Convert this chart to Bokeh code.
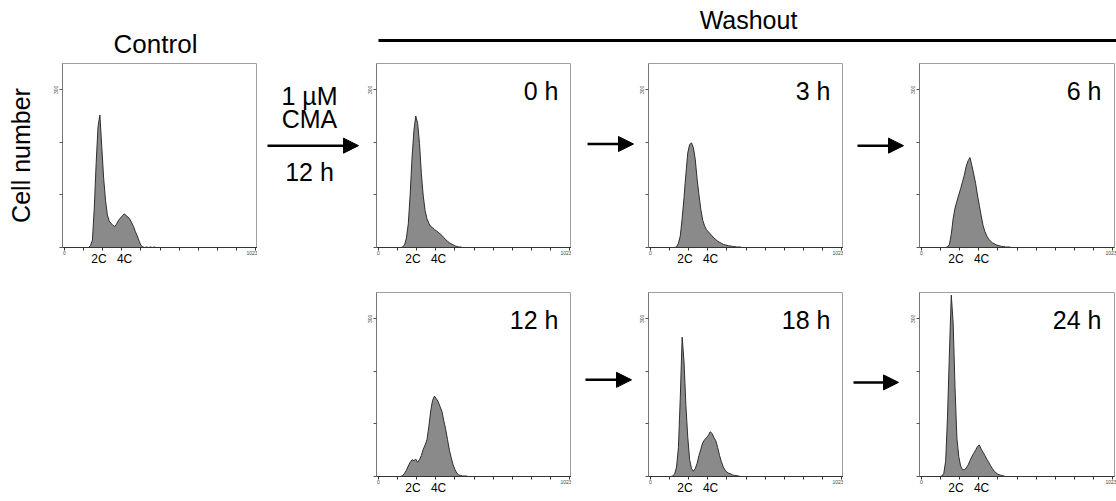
from bokeh.plotting import figure
from bokeh.models import Range1d, LinearAxis, FixedTicker, Arrow, NormalHead, Spacer, Label
from bokeh.layouts import row, column
from bokeh.embed import file_html
from bokeh.resources import INLINE
from bokeh.core.properties import value

FONT = "Liberation Sans"

# ---------------- data (DNA content histograms, channel vs cell count) -------------
channel = [100, 110, 120, 130, 140, 150, 160, 170, 180, 190,
           200, 210, 220, 230, 240, 250, 260, 270, 280, 290,
           300, 310, 320, 330, 340, 350, 360, 370, 380, 390,
           400, 410, 420, 430, 440, 450, 460, 470, 480, 490, 500]

control = [0, 0, 0, 0, 4, 14, 75, 160, 230, 252,
           192, 132, 90, 62, 50, 46, 42, 40, 45, 52,
           56, 60, 64, 61, 58, 54, 47, 40, 30, 22,
           12, 4, 1, 0, 1, 0, 1, 0, 1, 0, 0]

wash_0h = [0, 0, 0, 1, 5, 18, 45, 100, 170, 222,
           250, 236, 198, 140, 98, 70, 55, 46, 40, 38,
           34, 32, 29, 26, 23, 19, 15, 12, 9, 7,
           5, 3, 2, 1, 1, 0, 0, 0, 0, 0, 0]

wash_3h = [0, 0, 0, 0, 1, 8, 22, 55, 95, 140,
           180, 196, 199, 190, 168, 130, 100, 72, 52, 41,
           34, 30, 26, 22, 18, 15, 12, 10, 8, 6,
           5, 4, 3, 3, 2, 2, 1, 1, 1, 0, 0]

wash_6h = [0, 0, 0, 0, 1, 6, 25, 55, 75, 88,
           100, 112, 125, 138, 155, 165, 171, 156, 140, 122,
           100, 80, 60, 42, 30, 22, 16, 12, 9, 7,
           5, 4, 3, 2, 2, 1, 1, 1, 0, 0, 0]

wash_12h = [0, 0, 0, 2, 6, 12, 20, 27, 32, 30,
            33, 27, 32, 40, 52, 60, 70, 95, 125, 145,
            153, 148, 142, 133, 124, 106, 90, 70, 50, 35,
            22, 13, 6, 3, 2, 1, 1, 1, 0, 0, 0]

wash_18h = [0, 0, 1, 5, 18, 55, 150, 265, 218, 135,
            75, 32, 15, 10, 15, 25, 40, 52, 64, 70,
            74, 78, 85, 82, 74, 68, 55, 40, 28, 18,
            12, 8, 6, 5, 3, 2, 2, 1, 0, 0, 0]

wash_24h = [0, 1, 6, 30, 115, 235, 345, 292, 169, 73,
            38, 20, 13, 13, 16, 22, 30, 38, 44, 50,
            57, 60, 52, 46, 40, 33, 27, 21, 15, 10,
            7, 4, 3, 2, 1, 0, 0, 0, 0, 0, 0]

time_labels = ["0 h", "3 h", "6 h", "12 h", "18 h", "24 h"]

x_ticks = [0, 102, 205, 307, 409, 512, 614, 716, 818, 921, 1023]
x_tick_text = {0: "0", 1023: "1023"}
y_ticks = [0, 100, 200, 300]
y_tick_text = {300: "300"}
ploidy_channels = [185, 322]
ploidy_labels = ["2C", "4C"]

# ---------------- layout constants ----------------
FRAME_W = 195
FRAME_H = 184
HEADER_H = 60
ROW1_TOP, ROW1_BOTTOM = 3, 37
ROW2_TOP, ROW2_BOTTOM = 8, 25
ROW1_H = ROW1_TOP + FRAME_H + ROW1_BOTTOM
ROW2_H = ROW2_TOP + FRAME_H + ROW2_BOTTOM

FILL = "#8a8a8a"
EDGE = "#2e2e2e"
BIG = "25px"


def make_hist(counts, time_label, top, bottom, left=14, right=0, y_title=None):
    p = figure(width=left + FRAME_W + right, height=top + FRAME_H + bottom,
               x_range=Range1d(-10, 1033), y_range=Range1d(0, 350),
               x_axis_type=None, y_axis_type=None,
               output_backend="svg", toolbar_location=None,
               min_border_left=left, min_border_right=right,
               min_border_top=top, min_border_bottom=bottom)
    p.outline_line_color = "#a0a0a0"
    p.background_fill_color = "white"
    p.border_fill_color = "white"
    p.varea(x=channel, y1=0, y2=counts, fill_color=FILL)
    p.line(x=channel, y=counts, line_color=EDGE, line_width=1)

    xa = LinearAxis(ticker=FixedTicker(ticks=x_ticks, minor_ticks=[]),
                    major_label_overrides={t: x_tick_text.get(t, "") for t in x_ticks})
    xa.axis_line_color = "#333333"
    xa.major_tick_line_color = "#333333"
    xa.major_tick_in = 0
    xa.major_tick_out = 3
    xa.minor_tick_line_color = None
    xa.major_label_standoff = 0
    xa.major_label_text_font = FONT
    xa.major_label_text_font_size = "5px"
    p.add_layout(xa, "below")

    xa2 = LinearAxis(ticker=FixedTicker(ticks=ploidy_channels, minor_ticks=[]),
                     major_label_overrides=dict(zip(ploidy_channels, ploidy_labels)))
    xa2.axis_line_color = None
    xa2.major_tick_line_color = None
    xa2.minor_tick_line_color = None
    xa2.major_tick_in = 0
    xa2.major_tick_out = 0
    xa2.major_label_standoff = -6
    xa2.major_label_text_font = FONT
    xa2.major_label_text_font_size = "12px"
    xa2.major_label_text_color = "black"
    p.add_layout(xa2, "below")

    ya = LinearAxis(ticker=FixedTicker(ticks=y_ticks, minor_ticks=[]),
                    major_label_overrides={t: y_tick_text.get(t, "") for t in y_ticks})
    ya.axis_line_color = "#777777"
    ya.major_tick_line_color = "#555555"
    ya.major_tick_in = 0
    ya.major_tick_out = 3
    ya.minor_tick_line_color = None
    ya.major_label_standoff = 1
    ya.major_label_orientation = "vertical"
    ya.major_label_text_font = FONT
    ya.major_label_text_font_size = "5px"
    if y_title:
        ya.axis_label = y_title
        ya.axis_label_text_font = FONT
        ya.axis_label_text_font_size = BIG
        ya.axis_label_text_font_style = "normal"
        ya.axis_label_text_color = "black"
        ya.axis_label_standoff = 17
    p.add_layout(ya, "left")

    if time_label:
        p.add_layout(Label(x=963, y=297, text=time_label, text_align="right",
                           text_baseline="middle", text_font=FONT,
                           text_font_size=BIG, text_color="black"))
    return p


def make_blank(w, h):
    p = figure(width=w, height=h, x_range=Range1d(0, w), y_range=Range1d(0, h),
               x_axis_type=None, y_axis_type=None, output_backend="svg",
               toolbar_location=None, min_border=0)
    p.outline_line_color = None
    p.border_fill_color = "white"
    return p


def add_arrow(p, x0, x1, y):
    p.add_layout(Arrow(end=NormalHead(size=15, fill_color="black", line_color="black"),
                       x_start=x0, y_start=y, x_end=x1, y_end=y,
                       line_width=2.5, line_color="black"))


def add_text(p, x, y, txt, size=BIG, align="center", baseline="middle"):
    p.text(x=[x], y=[y], text=[txt], text_align=align, text_baseline=baseline,
           text_font=value(FONT), text_font_size=size, text_color="black")


# ---------------- header ----------------
header = make_blank(1116, HEADER_H)
add_text(header, 748, HEADER_H - 19, "Washout")
header.line(x=[378, 1116], y=[HEADER_H - 40, HEADER_H - 40], line_color="black", line_width=3)
add_text(header, 155, HEADER_H - 43, "Control", size="26px")

# ---------------- row 1 (fig y = page y mapped within row) ----------------
R1 = HEADER_H + ROW1_H          # page y of row-1 bottom


def r1(page_y):
    return R1 - page_y


p_ctrl = make_hist(control, None, ROW1_TOP, ROW1_BOTTOM, left=62, y_title="Cell number")
a_cma = make_blank(105, ROW1_H)
add_arrow(a_cma, 10, 101, r1(160))
add_text(a_cma, 52, r1(99), "1 µM")
add_text(a_cma, 52, r1(127), "CMA")
add_text(a_cma, 52, r1(192), "12 h")
p0 = make_hist(wash_0h, time_labels[0], ROW1_TOP, ROW1_BOTTOM)
a1 = make_blank(63, ROW1_H)
add_arrow(a1, 16, 62, r1(158))
p3 = make_hist(wash_3h, time_labels[1], ROW1_TOP, ROW1_BOTTOM)
a2 = make_blank(62, ROW1_H)
add_arrow(a2, 14, 60, r1(160))
p6 = make_hist(wash_6h, time_labels[2], ROW1_TOP, ROW1_BOTTOM, right=2)

# ---------------- row 2 ----------------
R2 = R1 + ROW2_H


def r2(page_y):
    return R2 - page_y


sp = Spacer(width=362, height=ROW2_H)
p12 = make_hist(wash_12h, time_labels[3], ROW2_TOP, ROW2_BOTTOM)
a3 = make_blank(63, ROW2_H)
add_arrow(a3, 14, 60, r2(387))
p18 = make_hist(wash_18h, time_labels[4], ROW2_TOP, ROW2_BOTTOM)
a4 = make_blank(62, ROW2_H)
add_arrow(a4, 10, 55, r2(390))
p24 = make_hist(wash_24h, time_labels[5], ROW2_TOP, ROW2_BOTTOM, right=2)

layout = column(header,
                row(p_ctrl, a_cma, p0, a1, p3, a2, p6),
                row(sp, p12, a3, p18, a4, p24))

open("out.html", "w").write(file_html(layout, INLINE))
